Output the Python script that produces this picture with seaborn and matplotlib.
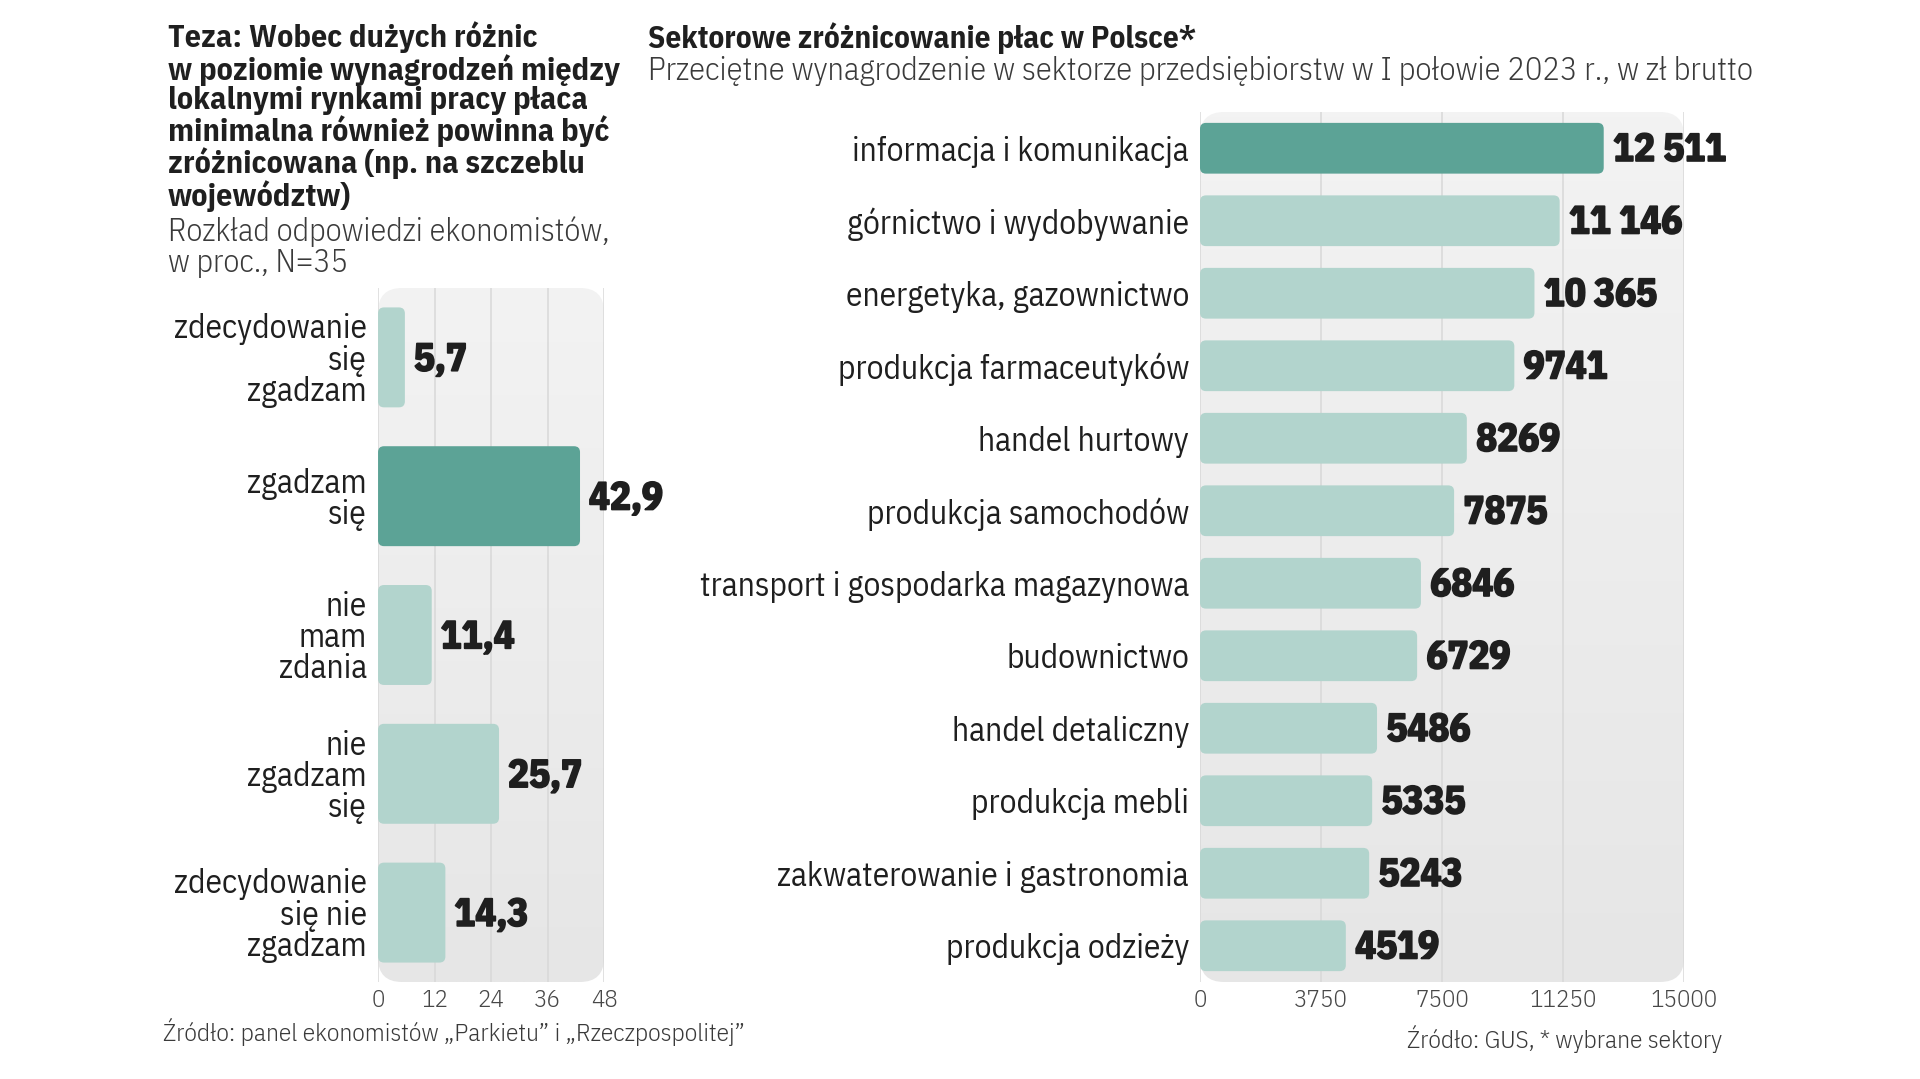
import numpy as np
import seaborn as sns
import matplotlib.pyplot as plt
import matplotlib.patheffects as pe
from matplotlib.patches import FancyBboxPatch
from matplotlib.colors import LinearSegmentedColormap

# data
answer_labels = ["zdecydowanie\nsię\nzgadzam", "zgadzam\nsię", "nie\nmam\nzdania",
                 "nie\nzgadzam\nsię", "zdecydowanie\nsię nie\nzgadzam"]
answer_values = [5.7, 42.9, 11.4, 25.7, 14.3]
answer_ticks = [0, 12, 24, 36, 48]

sector_labels = ["informacja i komunikacja", "górnictwo i wydobywanie", "energetyka, gazownictwo",
                 "produkcja farmaceutyków", "handel hurtowy", "produkcja samochodów",
                 "transport i gospodarka magazynowa", "budownictwo", "handel detaliczny",
                 "produkcja mebli", "zakwaterowanie i gastronomia", "produkcja odzieży"]
sector_values = [12511, 11146, 10365, 9741, 8269, 7875, 6846, 6729, 5486, 5335, 5243, 4519]
sector_ticks = [0, 3750, 7500, 11250, 15000]

DARK = "#5ca396"
LIGHT = "#b2d4cd"
TEXT = "#1f1f1f"
SUB = "#3a3a3a"

FONT = ['IBM Plex Sans Condensed', 'DejaVu Sans']

sns.set_style("white")
plt.rcParams['font.family'] = FONT

panel_cmap = LinearSegmentedColormap.from_list("panel", ["#f3f3f3", "#e6e6e6"])
heavy = [pe.withStroke(linewidth=1.3, foreground=TEXT)]


def fmt_pln(v):
    # polish style: space as thousands separator only for 5+ digits
    s = str(int(v))
    if len(s) > 4:
        s = s[:-3] + " " + s[-3:]
    return s


def fmt_pct(v):
    return f"{v:.1f}".replace(".", ",")


def round_bars(ax, radius_px=6):
    # swap seaborn's square bars for rounded ones
    bbox = ax.get_window_extent()
    x0, x1 = ax.get_xlim()
    y0, y1 = ax.get_ylim()
    xpp = abs(x1 - x0) / bbox.width
    ypp = abs(y1 - y0) / bbox.height
    for p in list(ax.patches):
        x, y, w, h = p.get_x(), p.get_y(), p.get_width(), p.get_height()
        p.set_visible(False)
        fb = FancyBboxPatch((x, y), w, h, boxstyle=f"round,pad=0,rounding_size={radius_px * xpp}",
                            mutation_aspect=ypp / xpp, facecolor=p.get_facecolor(),
                            edgecolor="none", zorder=3)
        ax.add_patch(fb)


def panel(ax, radius_px=24):
    # rounded light-grey card behind the bars, slightly darker at the bottom
    bbox = ax.get_window_extent()
    xlim, ylim = ax.get_xlim(), ax.get_ylim()
    bg = FancyBboxPatch((0, 0), 1, 1, boxstyle=f"round,pad=0,rounding_size={radius_px / bbox.width}",
                        transform=ax.transAxes, facecolor="none", edgecolor="none", zorder=0.1,
                        mutation_aspect=bbox.width / bbox.height)
    ax.add_patch(bg)
    grad = np.linspace(0, 1, 256).reshape(-1, 1)
    im = ax.imshow(grad, cmap=panel_cmap, extent=[0, 1, 0, 1], transform=ax.transAxes,
                   aspect="auto", zorder=0.1, interpolation="bilinear")
    im.set_clip_path(bg)
    ax.set_xlim(xlim)
    ax.set_ylim(ylim)


def style_axis(ax, ticks, ylabel_size, ypad):
    ax.set_facecolor("none")
    sns.despine(ax=ax, left=True, bottom=True)
    ax.set_xticks(ticks)
    ax.set_xticklabels([str(t) for t in ticks], fontsize=18, color="#474747", fontweight=300)
    ax.tick_params(axis="x", length=0, pad=5)
    ax.tick_params(axis="y", length=0, pad=ypad, labelsize=ylabel_size, labelcolor=TEXT)
    ax.set_xlim(ticks[0], ticks[-1])
    ax.grid(axis="x", color="#d8d8d8", lw=1.1, zorder=0.5)
    ax.grid(axis="y", visible=False)
    ax.set_axisbelow(True)
    ax.set_xlabel("")
    ax.set_ylabel("")


fig = plt.figure(figsize=(19.2, 10.79), dpi=100)

# left: survey answers
ax1 = fig.add_axes([0.1969, 0.0899, 0.1177, 0.6432])
colors1 = [DARK if v == max(answer_values) else LIGHT for v in answer_values]
sns.barplot(x=answer_values, y=answer_labels, hue=answer_labels, palette=colors1,
            orient="h", width=0.72, saturation=1, legend=False, ax=ax1)
style_axis(ax1, answer_ticks, 24, 8)
ax1.set_ylim(4.5, -0.5)
for lbl in ax1.get_yticklabels():
    lbl.set_linespacing(0.97)
for i, v in enumerate(answer_values):
    ax1.text(v + 1.9, i + 0.02, fmt_pct(v), va="center", ha="left", fontsize=28,
             fontweight="bold", color=TEXT, zorder=4, path_effects=heavy)

# right: sector wages
ax2 = fig.add_axes([0.625, 0.0899, 0.2521, 0.8063])
colors2 = [DARK if v == max(sector_values) else LIGHT for v in sector_values]
sns.barplot(x=sector_values, y=sector_labels, hue=sector_labels, palette=colors2,
            orient="h", width=0.70, saturation=1, legend=False, ax=ax2)
style_axis(ax2, sector_ticks, 24, 8)
ax2.set_ylim(11.5, -0.5)
for i, v in enumerate(sector_values):
    ax2.text(v + 290, i + 0.03, fmt_pln(v), va="center", ha="left", fontsize=28,
             fontweight="bold", color=TEXT, zorder=4, path_effects=heavy)

fig.canvas.draw()
for ax in (ax1, ax2):
    round_bars(ax)
    panel(ax)

# titles
fig.text(0.0875, 0.980, "Teza: Wobec dużych różnic\nw poziomie wynagrodzeń między\n"
         "lokalnymi rynkami pracy płaca\nminimalna również powinna być\n"
         "zróżnicowana (np. na szczeblu\nwojewództw)",
         ha="left", va="top", fontsize=23, fontweight="bold", color=TEXT, linespacing=1.015)
fig.text(0.0875, 0.7998, "Rozkład odpowiedzi ekonomistów,\nw proc., N=35",
         ha="left", va="top", fontsize=23, fontweight=300, color=SUB, linespacing=1.04)

fig.text(0.3375, 0.9796, "Sektorowe zróżnicowanie płac w Polsce*",
         ha="left", va="top", fontsize=22.5, fontweight="bold", color=TEXT)
fig.text(0.3375, 0.9485, "Przeciętne wynagrodzenie w sektorze przedsiębiorstw w I połowie 2023 r., w zł brutto",
         ha="left", va="top", fontsize=23.3, fontweight=300, color=SUB)

# sources
fig.text(0.0849, 0.0435, "Źródło: panel ekonomistów „Parkietu” i „Rzeczpospolitej”",
         ha="left", va="center", fontsize=18.3, fontweight=300, color=SUB)
fig.text(0.8969, 0.0370, "Źródło: GUS, * wybrane sektory",
         ha="right", va="center", fontsize=18.3, fontweight=300, color=SUB)

fig.savefig("out.png", dpi=100, facecolor="white")
